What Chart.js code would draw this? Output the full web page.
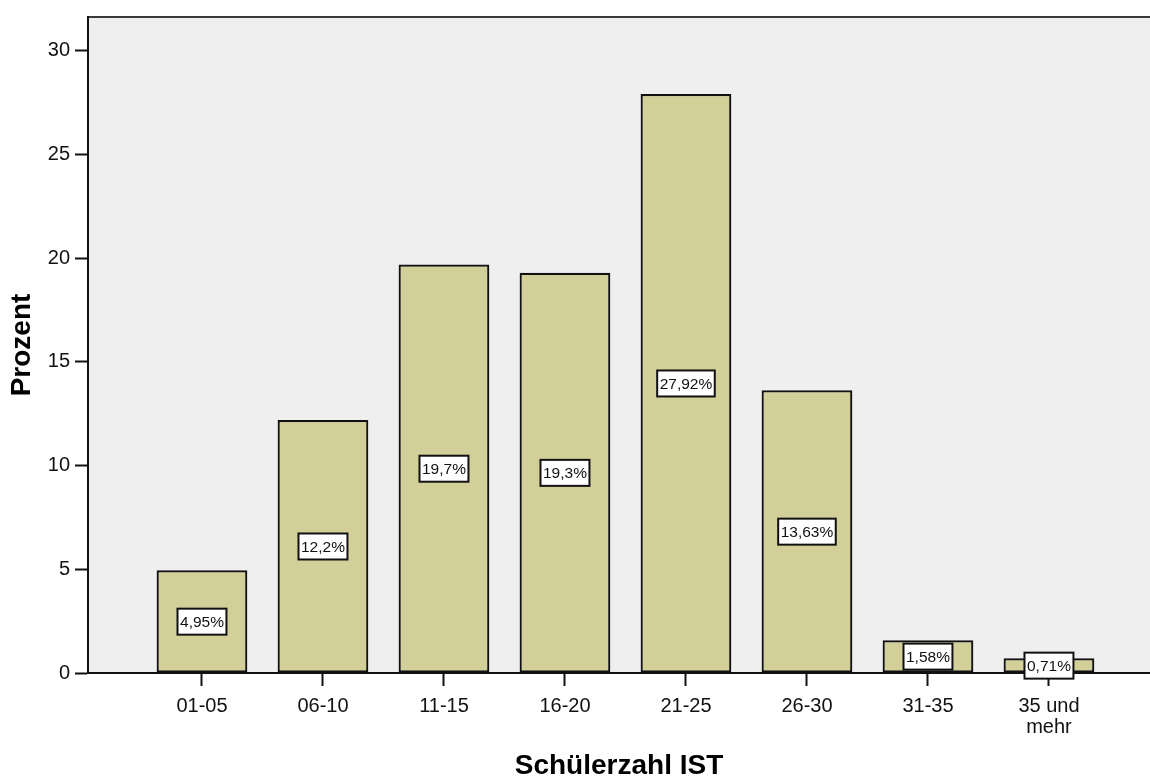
<!DOCTYPE html>
<html>
<head>
<meta charset="utf-8">
<script src="https://cdn.jsdelivr.net/npm/chart.js@4"></script>
<style>
  html, body { margin: 0; padding: 0; background: #fff; }
  #wrap { width: 1150px; height: 776px; }
</style>
</head>
<body>
<div id="wrap"><canvas id="chart" width="1150" height="776"></canvas></div>
<script>
// Schülerzahl IST, share of classes per size band (percent)
const categories = ['01-05', '06-10', '11-15', '16-20', '21-25', '26-30', '31-35', ['35 und', 'mehr']];
const percent = [4.95, 12.2, 19.7, 19.3, 27.92, 13.63, 1.58, 0.71];
const yTicks = [0, 5, 10, 15, 20, 25, 30];

const FONT = 'Arial, "Liberation Sans", sans-serif';

// grey plot area with a thin frame line on top
const plotBackground = {
  id: 'plotBackground',
  beforeDraw(chart) {
    const { ctx, chartArea: a } = chart;
    ctx.save();
    ctx.fillStyle = '#efefef';
    ctx.fillRect(a.left, a.top, a.right - a.left, a.bottom - a.top);
    ctx.strokeStyle = '#3a3a3a';
    ctx.lineWidth = 2;
    ctx.beginPath();
    ctx.moveTo(a.left, a.top);
    ctx.lineTo(a.right, a.top);
    ctx.stroke();
    ctx.restore();
  }
};

// boxed percent labels in the middle of every bar
const boxLabels = {
  id: 'boxLabels',
  afterDraw(chart) {
    const { ctx } = chart;
    const yScale = chart.scales.y;
    const meta = chart.getDatasetMeta(0);
    ctx.save();
    ctx.font = '15.5px ' + FONT;
    ctx.textAlign = 'center';
    ctx.textBaseline = 'middle';
    meta.data.forEach((bar, i) => {
      const v = percent[i];
      const text = String(v).replace('.', ',') + '%';
      const w = ctx.measureText(text).width + 5;
      const h = 26;
      const x = bar.x;
      const y = yScale.getPixelForValue(v / 2);
      ctx.fillStyle = '#fff';
      ctx.fillRect(x - w / 2, y - h / 2, w, h);
      ctx.strokeStyle = '#111';
      ctx.lineWidth = 2;
      ctx.strokeRect(x - w / 2, y - h / 2, w, h);
      ctx.fillStyle = '#111';
      ctx.fillText(text, x, y + 1);
    });
    ctx.restore();
  }
};

new Chart(document.getElementById('chart'), {
  type: 'bar',
  data: {
    datasets: [{
      data: percent.map((v, i) => ({ x: i, y: v })),
      backgroundColor: '#d3cf98',
      borderColor: '#111',
      borderWidth: 2.2,
      borderSkipped: false,
      barPercentage: 0.75,
      categoryPercentage: 1
    }]
  },
  options: {
    responsive: false,
    animation: false,
    layout: { padding: { top: 14, right: 0, left: 0, bottom: 0 } },
    plugins: { legend: { display: false }, tooltip: { enabled: false } },
    scales: {
      x: {
        type: 'linear',
        offset: false,
        min: -0.942,
        max: 7.835,
        afterBuildTicks: (scale) => { scale.ticks = categories.map((_, i) => ({ value: i })); },
        afterFit: (scale) => { scale.height = 103; },
        grid: { offset: false, drawOnChartArea: false, drawTicks: true, tickLength: 13, tickWidth: 2, tickColor: '#111' },
        border: { display: true, color: '#111', width: 2 },
        ticks: {
          autoSkip: false,
          maxRotation: 0,
          padding: 10,
          color: '#111',
          font: { family: FONT, size: 20, lineHeight: 1.05 },
          callback: (v) => categories[v]
        },
        title: {
          display: true,
          text: 'Schülerzahl IST',
          color: '#000',
          font: { family: FONT, size: 28, weight: 'bold', lineHeight: 1 },
          padding: { top: 0, bottom: -4 }
        }
      },
      y: {
        min: 0,
        max: 31.63,
        afterBuildTicks: (scale) => { scale.ticks = yTicks.map(v => ({ value: v })); },
        afterFit: (scale) => { scale.width = 88; },
        grid: { drawOnChartArea: false, drawTicks: true, tickLength: 13, tickWidth: 2, tickColor: '#111' },
        border: { display: true, color: '#111', width: 2 },
        ticks: {
          padding: 5,
          color: '#111',
          font: { family: FONT, size: 20 }
        },
        title: {
          display: true,
          text: 'Prozent',
          color: '#000',
          font: { family: FONT, size: 28, weight: 'bold', lineHeight: 1 },
          padding: { top: 8, bottom: 0 }
        }
      }
    }
  },
  plugins: [plotBackground, boxLabels]
});
</script>
</body>
</html>
